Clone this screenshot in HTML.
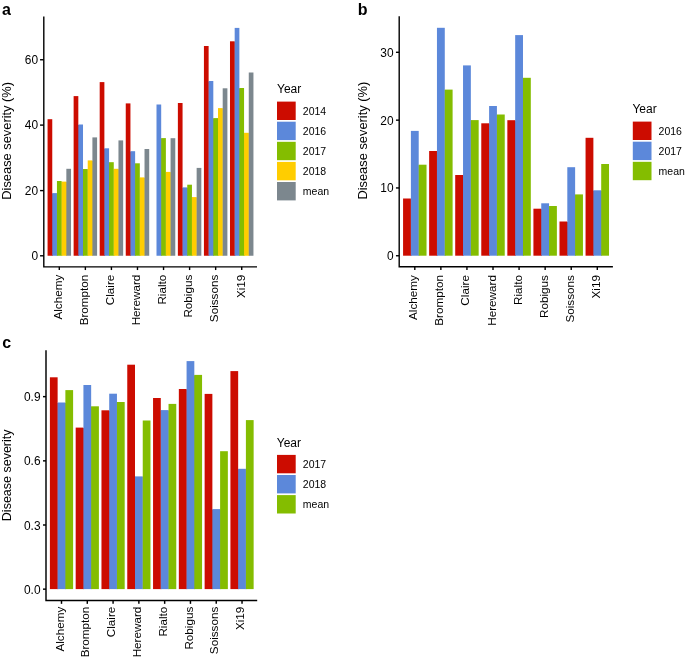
<!DOCTYPE html>
<html><head><meta charset="utf-8"><title>Disease severity</title>
<style>
html,body{margin:0;padding:0;background:#fff;}
svg{display:block;font-family:"Liberation Sans", Arial, Helvetica, sans-serif;fill:#000;}
</style></head><body>
<svg width="685" height="657" viewBox="0 0 685 657">
<rect x="0" y="0" width="685" height="657" fill="#fff"/>
<g class="bars">
<rect x="47.57" y="119.20" width="4.69" height="136.55" fill="#CC0C00"/>
<rect x="51.96" y="193.60" width="1.0" height="62.15" fill="#CC0C00"/>
<rect x="52.26" y="193.10" width="4.69" height="62.65" fill="#5C88DA"/>
<rect x="56.65" y="193.60" width="1.0" height="62.15" fill="#5C88DA"/>
<rect x="56.95" y="181.00" width="4.69" height="74.75" fill="#84BD00"/>
<rect x="61.35" y="182.10" width="1.0" height="73.65" fill="#84BD00"/>
<rect x="61.65" y="181.60" width="4.69" height="74.15" fill="#FFCD00"/>
<rect x="66.04" y="182.10" width="1.0" height="73.65" fill="#FFCD00"/>
<rect x="66.34" y="168.80" width="4.69" height="86.95" fill="#7C878E"/>
<rect x="73.63" y="96.10" width="4.69" height="159.65" fill="#CC0C00"/>
<rect x="78.02" y="125.00" width="1.0" height="130.75" fill="#CC0C00"/>
<rect x="78.32" y="124.50" width="4.69" height="131.25" fill="#5C88DA"/>
<rect x="82.71" y="169.50" width="1.0" height="86.25" fill="#5C88DA"/>
<rect x="83.01" y="169.00" width="4.69" height="86.75" fill="#84BD00"/>
<rect x="87.41" y="169.50" width="1.0" height="86.25" fill="#84BD00"/>
<rect x="87.71" y="160.40" width="4.69" height="95.35" fill="#FFCD00"/>
<rect x="92.10" y="160.90" width="1.0" height="94.85" fill="#FFCD00"/>
<rect x="92.40" y="137.40" width="4.69" height="118.35" fill="#7C878E"/>
<rect x="99.69" y="82.10" width="4.69" height="173.65" fill="#CC0C00"/>
<rect x="104.08" y="148.80" width="1.0" height="106.95" fill="#CC0C00"/>
<rect x="104.38" y="148.30" width="4.69" height="107.45" fill="#5C88DA"/>
<rect x="108.77" y="162.70" width="1.0" height="93.05" fill="#5C88DA"/>
<rect x="109.07" y="162.20" width="4.69" height="93.55" fill="#84BD00"/>
<rect x="113.47" y="169.30" width="1.0" height="86.45" fill="#84BD00"/>
<rect x="113.77" y="168.80" width="4.69" height="86.95" fill="#FFCD00"/>
<rect x="118.16" y="169.30" width="1.0" height="86.45" fill="#FFCD00"/>
<rect x="118.46" y="140.40" width="4.69" height="115.35" fill="#7C878E"/>
<rect x="125.75" y="103.40" width="4.69" height="152.35" fill="#CC0C00"/>
<rect x="130.14" y="151.70" width="1.0" height="104.05" fill="#CC0C00"/>
<rect x="130.44" y="151.20" width="4.69" height="104.55" fill="#5C88DA"/>
<rect x="134.83" y="163.80" width="1.0" height="91.95" fill="#5C88DA"/>
<rect x="135.13" y="163.30" width="4.69" height="92.45" fill="#84BD00"/>
<rect x="139.53" y="177.90" width="1.0" height="77.85" fill="#84BD00"/>
<rect x="139.83" y="177.40" width="4.69" height="78.35" fill="#FFCD00"/>
<rect x="144.22" y="177.90" width="1.0" height="77.85" fill="#FFCD00"/>
<rect x="144.52" y="149.00" width="4.69" height="106.75" fill="#7C878E"/>
<rect x="156.50" y="104.50" width="4.69" height="151.25" fill="#5C88DA"/>
<rect x="160.89" y="138.60" width="1.0" height="117.15" fill="#5C88DA"/>
<rect x="161.19" y="138.10" width="4.69" height="117.65" fill="#84BD00"/>
<rect x="165.59" y="172.40" width="1.0" height="83.35" fill="#84BD00"/>
<rect x="165.89" y="171.90" width="4.69" height="83.85" fill="#FFCD00"/>
<rect x="170.28" y="172.40" width="1.0" height="83.35" fill="#FFCD00"/>
<rect x="170.58" y="138.20" width="4.69" height="117.55" fill="#7C878E"/>
<rect x="177.87" y="103.00" width="4.69" height="152.75" fill="#CC0C00"/>
<rect x="182.26" y="187.90" width="1.0" height="67.85" fill="#CC0C00"/>
<rect x="182.56" y="187.40" width="4.69" height="68.35" fill="#5C88DA"/>
<rect x="186.95" y="187.90" width="1.0" height="67.85" fill="#5C88DA"/>
<rect x="187.25" y="184.70" width="4.69" height="71.05" fill="#84BD00"/>
<rect x="191.65" y="197.60" width="1.0" height="58.15" fill="#84BD00"/>
<rect x="191.95" y="197.10" width="4.69" height="58.65" fill="#FFCD00"/>
<rect x="196.34" y="197.60" width="1.0" height="58.15" fill="#FFCD00"/>
<rect x="196.64" y="167.90" width="4.69" height="87.85" fill="#7C878E"/>
<rect x="203.93" y="46.00" width="4.69" height="209.75" fill="#CC0C00"/>
<rect x="208.32" y="81.50" width="1.0" height="174.25" fill="#CC0C00"/>
<rect x="208.62" y="81.00" width="4.69" height="174.75" fill="#5C88DA"/>
<rect x="213.01" y="118.60" width="1.0" height="137.15" fill="#5C88DA"/>
<rect x="213.31" y="118.10" width="4.69" height="137.65" fill="#84BD00"/>
<rect x="217.71" y="118.60" width="1.0" height="137.15" fill="#84BD00"/>
<rect x="218.01" y="108.10" width="4.69" height="147.65" fill="#FFCD00"/>
<rect x="222.40" y="108.60" width="1.0" height="147.15" fill="#FFCD00"/>
<rect x="222.70" y="88.30" width="4.69" height="167.45" fill="#7C878E"/>
<rect x="229.99" y="41.30" width="4.69" height="214.45" fill="#CC0C00"/>
<rect x="234.38" y="41.80" width="1.0" height="213.95" fill="#CC0C00"/>
<rect x="234.68" y="27.90" width="4.69" height="227.85" fill="#5C88DA"/>
<rect x="239.07" y="88.50" width="1.0" height="167.25" fill="#5C88DA"/>
<rect x="239.37" y="88.00" width="4.69" height="167.75" fill="#84BD00"/>
<rect x="243.77" y="133.30" width="1.0" height="122.45" fill="#84BD00"/>
<rect x="244.07" y="132.80" width="4.69" height="122.95" fill="#FFCD00"/>
<rect x="248.46" y="133.30" width="1.0" height="122.45" fill="#FFCD00"/>
<rect x="248.76" y="72.50" width="4.69" height="183.25" fill="#7C878E"/>
</g>
<g stroke="#000" stroke-width="1.4" fill="none">
<path d="M43.80 16.40V266.85H257.00"/>
<path d="M40.05 255.80H43.80"/>
<path d="M40.05 190.60H43.80"/>
<path d="M40.05 125.10H43.80"/>
<path d="M40.05 59.75H43.80"/>
<path d="M59.30 266.85V270.05"/>
<path d="M85.36 266.85V270.05"/>
<path d="M111.42 266.85V270.05"/>
<path d="M137.48 266.85V270.05"/>
<path d="M163.54 266.85V270.05"/>
<path d="M189.60 266.85V270.05"/>
<path d="M215.66 266.85V270.05"/>
<path d="M241.72 266.85V270.05"/>
</g>
<g font-size="11.9" text-anchor="end">
<text x="38.00" y="259.90">0</text>
<text x="38.00" y="194.60">20</text>
<text x="38.00" y="129.20">40</text>
<text x="38.00" y="64.00">60</text>
</g>
<g font-size="11.7" text-anchor="end">
<text transform="translate(62.10 274.70) rotate(-90)">Alchemy</text>
<text transform="translate(88.16 274.70) rotate(-90)">Brompton</text>
<text transform="translate(114.22 274.70) rotate(-90)">Claire</text>
<text transform="translate(140.28 274.70) rotate(-90)">Hereward</text>
<text transform="translate(166.34 274.70) rotate(-90)">Rialto</text>
<text transform="translate(192.40 274.70) rotate(-90)">Robigus</text>
<text transform="translate(218.46 274.70) rotate(-90)">Soissons</text>
<text transform="translate(244.52 274.70) rotate(-90)">Xi19</text>
</g>
<text transform="translate(11.40 140.82) rotate(-90)" text-anchor="middle" font-size="12.85">Disease severity (%)</text>
<text x="2.1" y="14.8" font-size="16" font-weight="bold">a</text>
<text x="277.0" y="93.1" font-size="12">Year</text>
<rect x="277.00" y="101.60" width="18.7" height="18.4" fill="#CC0C00"/>
<text x="302.80" y="114.60" font-size="10.5">2014</text>
<rect x="277.00" y="121.70" width="18.7" height="18.4" fill="#5C88DA"/>
<text x="302.80" y="134.70" font-size="10.5">2016</text>
<rect x="277.00" y="141.80" width="18.7" height="18.4" fill="#84BD00"/>
<text x="302.80" y="154.80" font-size="10.5">2017</text>
<rect x="277.00" y="161.90" width="18.7" height="18.4" fill="#FFCD00"/>
<text x="302.80" y="174.90" font-size="10.5">2018</text>
<rect x="277.00" y="182.00" width="18.7" height="18.4" fill="#7C878E"/>
<text x="302.80" y="195.00" font-size="10.5">mean</text>
<g class="bars">
<rect x="403.07" y="198.50" width="7.82" height="57.20" fill="#CC0C00"/>
<rect x="410.59" y="199.00" width="1.0" height="56.70" fill="#CC0C00"/>
<rect x="410.89" y="130.90" width="7.82" height="124.80" fill="#5C88DA"/>
<rect x="418.41" y="165.20" width="1.0" height="90.50" fill="#5C88DA"/>
<rect x="418.71" y="164.70" width="7.82" height="91.00" fill="#84BD00"/>
<rect x="429.14" y="151.00" width="7.82" height="104.70" fill="#CC0C00"/>
<rect x="436.66" y="151.50" width="1.0" height="104.20" fill="#CC0C00"/>
<rect x="436.96" y="27.80" width="7.82" height="227.90" fill="#5C88DA"/>
<rect x="444.48" y="90.10" width="1.0" height="165.60" fill="#5C88DA"/>
<rect x="444.78" y="89.60" width="7.82" height="166.10" fill="#84BD00"/>
<rect x="455.21" y="175.00" width="7.82" height="80.70" fill="#CC0C00"/>
<rect x="462.73" y="175.50" width="1.0" height="80.20" fill="#CC0C00"/>
<rect x="463.03" y="65.40" width="7.82" height="190.30" fill="#5C88DA"/>
<rect x="470.55" y="120.60" width="1.0" height="135.10" fill="#5C88DA"/>
<rect x="470.85" y="120.10" width="7.82" height="135.60" fill="#84BD00"/>
<rect x="481.28" y="123.30" width="7.82" height="132.40" fill="#CC0C00"/>
<rect x="488.80" y="123.80" width="1.0" height="131.90" fill="#CC0C00"/>
<rect x="489.10" y="106.00" width="7.82" height="149.70" fill="#5C88DA"/>
<rect x="496.62" y="115.00" width="1.0" height="140.70" fill="#5C88DA"/>
<rect x="496.92" y="114.50" width="7.82" height="141.20" fill="#84BD00"/>
<rect x="507.35" y="120.20" width="7.82" height="135.50" fill="#CC0C00"/>
<rect x="514.87" y="120.70" width="1.0" height="135.00" fill="#CC0C00"/>
<rect x="515.17" y="35.10" width="7.82" height="220.60" fill="#5C88DA"/>
<rect x="522.69" y="78.30" width="1.0" height="177.40" fill="#5C88DA"/>
<rect x="522.99" y="77.80" width="7.82" height="177.90" fill="#84BD00"/>
<rect x="533.42" y="208.70" width="7.82" height="47.00" fill="#CC0C00"/>
<rect x="540.94" y="209.20" width="1.0" height="46.50" fill="#CC0C00"/>
<rect x="541.24" y="203.30" width="7.82" height="52.40" fill="#5C88DA"/>
<rect x="548.76" y="206.50" width="1.0" height="49.20" fill="#5C88DA"/>
<rect x="549.06" y="206.00" width="7.82" height="49.70" fill="#84BD00"/>
<rect x="559.49" y="221.50" width="7.82" height="34.20" fill="#CC0C00"/>
<rect x="567.01" y="222.00" width="1.0" height="33.70" fill="#CC0C00"/>
<rect x="567.31" y="167.20" width="7.82" height="88.50" fill="#5C88DA"/>
<rect x="574.83" y="194.90" width="1.0" height="60.80" fill="#5C88DA"/>
<rect x="575.13" y="194.40" width="7.82" height="61.30" fill="#84BD00"/>
<rect x="585.56" y="137.80" width="7.82" height="117.90" fill="#CC0C00"/>
<rect x="593.08" y="190.80" width="1.0" height="64.90" fill="#CC0C00"/>
<rect x="593.38" y="190.30" width="7.82" height="65.40" fill="#5C88DA"/>
<rect x="600.90" y="190.80" width="1.0" height="64.90" fill="#5C88DA"/>
<rect x="601.20" y="164.00" width="7.82" height="91.70" fill="#84BD00"/>
</g>
<g stroke="#000" stroke-width="1.4" fill="none">
<path d="M399.20 16.20V266.80H612.90"/>
<path d="M395.95 255.75H399.20"/>
<path d="M395.95 187.95H399.20"/>
<path d="M395.95 120.15H399.20"/>
<path d="M395.95 52.30H399.20"/>
<path d="M414.80 266.80V269.90"/>
<path d="M440.87 266.80V269.90"/>
<path d="M466.94 266.80V269.90"/>
<path d="M493.01 266.80V269.90"/>
<path d="M519.08 266.80V269.90"/>
<path d="M545.15 266.80V269.90"/>
<path d="M571.22 266.80V269.90"/>
<path d="M597.29 266.80V269.90"/>
</g>
<g font-size="11.9" text-anchor="end">
<text x="393.60" y="260.20">0</text>
<text x="393.60" y="192.40">10</text>
<text x="393.60" y="124.60">20</text>
<text x="393.60" y="56.80">30</text>
</g>
<g font-size="11.7" text-anchor="end">
<text transform="translate(417.35 275.10) rotate(-90)">Alchemy</text>
<text transform="translate(443.42 275.10) rotate(-90)">Brompton</text>
<text transform="translate(469.49 275.10) rotate(-90)">Claire</text>
<text transform="translate(495.56 275.10) rotate(-90)">Hereward</text>
<text transform="translate(521.63 275.10) rotate(-90)">Rialto</text>
<text transform="translate(547.70 275.10) rotate(-90)">Robigus</text>
<text transform="translate(573.77 275.10) rotate(-90)">Soissons</text>
<text transform="translate(599.84 275.10) rotate(-90)">Xi19</text>
</g>
<text transform="translate(366.80 140.70) rotate(-90)" text-anchor="middle" font-size="12.85">Disease severity (%)</text>
<text x="357.7" y="14.9" font-size="16" font-weight="bold">b</text>
<text x="632.4" y="112.8" font-size="12">Year</text>
<rect x="632.80" y="121.60" width="18.7" height="18.4" fill="#CC0C00"/>
<text x="658.60" y="134.60" font-size="10.5">2016</text>
<rect x="632.80" y="141.70" width="18.7" height="18.4" fill="#5C88DA"/>
<text x="658.60" y="154.70" font-size="10.5">2017</text>
<rect x="632.80" y="161.80" width="18.7" height="18.4" fill="#84BD00"/>
<text x="658.60" y="174.80" font-size="10.5">mean</text>
<g class="bars">
<rect x="49.89" y="377.30" width="7.74" height="211.80" fill="#CC0C00"/>
<rect x="57.33" y="403.00" width="1.0" height="186.10" fill="#CC0C00"/>
<rect x="57.63" y="402.50" width="7.74" height="186.60" fill="#5C88DA"/>
<rect x="65.07" y="403.00" width="1.0" height="186.10" fill="#5C88DA"/>
<rect x="65.37" y="390.10" width="7.74" height="199.00" fill="#84BD00"/>
<rect x="75.68" y="427.60" width="7.74" height="161.50" fill="#CC0C00"/>
<rect x="83.12" y="428.10" width="1.0" height="161.00" fill="#CC0C00"/>
<rect x="83.42" y="385.00" width="7.74" height="204.10" fill="#5C88DA"/>
<rect x="90.86" y="406.80" width="1.0" height="182.30" fill="#5C88DA"/>
<rect x="91.16" y="406.30" width="7.74" height="182.80" fill="#84BD00"/>
<rect x="101.47" y="410.30" width="7.74" height="178.80" fill="#CC0C00"/>
<rect x="108.91" y="410.80" width="1.0" height="178.30" fill="#CC0C00"/>
<rect x="109.21" y="393.70" width="7.74" height="195.40" fill="#5C88DA"/>
<rect x="116.65" y="402.50" width="1.0" height="186.60" fill="#5C88DA"/>
<rect x="116.95" y="402.00" width="7.74" height="187.10" fill="#84BD00"/>
<rect x="127.26" y="364.70" width="7.74" height="224.40" fill="#CC0C00"/>
<rect x="134.70" y="476.90" width="1.0" height="112.20" fill="#CC0C00"/>
<rect x="135.00" y="476.40" width="7.74" height="112.70" fill="#5C88DA"/>
<rect x="142.44" y="476.90" width="1.0" height="112.20" fill="#5C88DA"/>
<rect x="142.74" y="420.50" width="7.74" height="168.60" fill="#84BD00"/>
<rect x="153.05" y="398.00" width="7.74" height="191.10" fill="#CC0C00"/>
<rect x="160.49" y="410.60" width="1.0" height="178.50" fill="#CC0C00"/>
<rect x="160.79" y="410.10" width="7.74" height="179.00" fill="#5C88DA"/>
<rect x="168.23" y="410.60" width="1.0" height="178.50" fill="#5C88DA"/>
<rect x="168.53" y="403.90" width="7.74" height="185.20" fill="#84BD00"/>
<rect x="178.84" y="389.00" width="7.74" height="200.10" fill="#CC0C00"/>
<rect x="186.28" y="389.50" width="1.0" height="199.60" fill="#CC0C00"/>
<rect x="186.58" y="361.10" width="7.74" height="228.00" fill="#5C88DA"/>
<rect x="194.02" y="375.40" width="1.0" height="213.70" fill="#5C88DA"/>
<rect x="194.32" y="374.90" width="7.74" height="214.20" fill="#84BD00"/>
<rect x="204.63" y="393.90" width="7.74" height="195.20" fill="#CC0C00"/>
<rect x="212.07" y="509.60" width="1.0" height="79.50" fill="#CC0C00"/>
<rect x="212.37" y="509.10" width="7.74" height="80.00" fill="#5C88DA"/>
<rect x="219.81" y="509.60" width="1.0" height="79.50" fill="#5C88DA"/>
<rect x="220.11" y="451.20" width="7.74" height="137.90" fill="#84BD00"/>
<rect x="230.42" y="371.10" width="7.74" height="218.00" fill="#CC0C00"/>
<rect x="237.86" y="469.30" width="1.0" height="119.80" fill="#CC0C00"/>
<rect x="238.16" y="468.80" width="7.74" height="120.30" fill="#5C88DA"/>
<rect x="245.60" y="469.30" width="1.0" height="119.80" fill="#5C88DA"/>
<rect x="245.90" y="420.10" width="7.74" height="169.00" fill="#84BD00"/>
</g>
<g stroke="#000" stroke-width="1.45" fill="none">
<path d="M46.00 350.20V600.45H257.20"/>
<path d="M43.00 589.15H46.00"/>
<path d="M43.00 525.00H46.00"/>
<path d="M43.00 460.85H46.00"/>
<path d="M43.00 396.65H46.00"/>
<path d="M61.50 600.45V603.85"/>
<path d="M87.29 600.45V603.85"/>
<path d="M113.08 600.45V603.85"/>
<path d="M138.87 600.45V603.85"/>
<path d="M164.66 600.45V603.85"/>
<path d="M190.45 600.45V603.85"/>
<path d="M216.24 600.45V603.85"/>
<path d="M242.03 600.45V603.85"/>
</g>
<g font-size="11.9" text-anchor="end">
<text x="40.50" y="593.80">0.0</text>
<text x="40.50" y="529.80">0.3</text>
<text x="40.50" y="465.40">0.6</text>
<text x="40.50" y="400.60">0.9</text>
</g>
<g font-size="11.7" text-anchor="end">
<text transform="translate(63.55 606.70) rotate(-90)">Alchemy</text>
<text transform="translate(89.34 606.70) rotate(-90)">Brompton</text>
<text transform="translate(115.13 606.70) rotate(-90)">Claire</text>
<text transform="translate(140.92 606.70) rotate(-90)">Hereward</text>
<text transform="translate(166.71 606.70) rotate(-90)">Rialto</text>
<text transform="translate(192.50 606.70) rotate(-90)">Robigus</text>
<text transform="translate(218.29 606.70) rotate(-90)">Soissons</text>
<text transform="translate(244.08 606.70) rotate(-90)">Xi19</text>
</g>
<text transform="translate(11.00 475.33) rotate(-90)" text-anchor="middle" font-size="12.5">Disease severity</text>
<text x="2.3" y="348.2" font-size="16" font-weight="bold">c</text>
<text x="276.8" y="446.8" font-size="12">Year</text>
<rect x="277.00" y="454.90" width="18.7" height="18.4" fill="#CC0C00"/>
<text x="302.80" y="467.90" font-size="10.5">2017</text>
<rect x="277.00" y="475.00" width="18.7" height="18.4" fill="#5C88DA"/>
<text x="302.80" y="488.00" font-size="10.5">2018</text>
<rect x="277.00" y="495.10" width="18.7" height="18.4" fill="#84BD00"/>
<text x="302.80" y="508.10" font-size="10.5">mean</text>
</svg>
</body></html>
